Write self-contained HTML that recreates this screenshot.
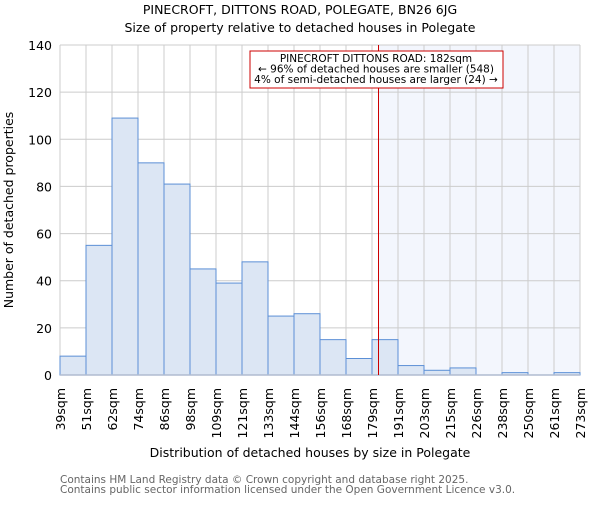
<!DOCTYPE html>
<html><head><meta charset="utf-8"><style>
body{margin:0;background:#fff;}
svg text{font-family:"DejaVu Sans","Liberation Sans",sans-serif;}
</style></head><body>
<svg id="chart" width="600" height="500" xmlns="http://www.w3.org/2000/svg">
<text x="300" y="14" text-anchor="middle" font-size="12.5">PINECROFT, DITTONS ROAD, POLEGATE, BN26 6JG</text>
<text x="300" y="32" text-anchor="middle" font-size="12.5">Size of property relative to detached houses in Polegate</text>
<g id="plot"></g>
<text transform="translate(13,210) rotate(-90)" text-anchor="middle" font-size="12.5">Number of detached properties</text>
<text x="310" y="457" text-anchor="middle" font-size="12.5">Distribution of detached houses by size in Polegate</text>
<text x="60" y="483" font-size="10.5" fill="#666">Contains HM Land Registry data © Crown copyright and database right 2025.</text>
<text x="60" y="493" font-size="10.5" fill="#666">Contains public sector information licensed under the Open Government Licence v3.0.</text>
</svg>
<script>
const tickLabels=["39sqm","51sqm","62sqm","74sqm","86sqm","98sqm","109sqm","121sqm","133sqm","144sqm","156sqm","168sqm","179sqm","191sqm","203sqm","215sqm","226sqm","238sqm","250sqm","261sqm","273sqm"];
const counts=[8,55,109,90,81,45,39,48,25,26,15,7,15,4,2,3,0,1,0,1];
const yTicks=[0,20,40,60,80,100,120,140];
const propertyIndex=12.25;
const NS="http://www.w3.org/2000/svg";
const L=60,R=580,T=45,B=375,yMax=140;
const bw=(R-L)/counts.length;
const xs=i=>L+i*bw;
const ys=v=>B-v/yMax*(B-T);
const g=document.getElementById('plot');
function mk(tag,attrs){const e=document.createElementNS(NS,tag);for(const k in attrs)e.setAttribute(k,attrs[k]);g.appendChild(e);return e;}
const px=xs(propertyIndex);
let e=mk('rect',{x:px,y:T,width:R-px,height:B-T,fill:'#f3f6fd'});


yTicks.forEach(v=>{const l=mk('line',{x1:L,x2:R,y1:ys(v),y2:ys(v),stroke:'#ccc','stroke-width':1});


const t=mk('text',{x:L-8,y:ys(v)+5,'text-anchor':'end','font-size':'12.5'});t.textContent=v;

});
tickLabels.forEach((s,i)=>{const l=mk('line',{x1:xs(i),x2:xs(i),y1:T,y2:B,stroke:'#ccc','stroke-width':1});


const t=mk('text',{transform:`translate(${xs(i)+5},388) rotate(-90)`,'text-anchor':'end','font-size':'12.5'});t.textContent=s;

});
counts.forEach((c,i)=>{if(c<=0)return;const r=mk('rect',{x:xs(i),y:ys(c),width:bw,height:B-ys(c),fill:'#dce6f4',stroke:'#5b8fd6','stroke-width':1});

});
e=mk('line',{x1:L,x2:R,y1:B,y2:B,stroke:'#b0bcd0','stroke-width':1.5});


e=mk('line',{x1:px,x2:px,y1:T,y2:B,stroke:'#cc0000','stroke-width':1});


e=mk('rect',{x:250,y:51,width:253,height:37,fill:'#fff',stroke:'#cc0000','stroke-width':1});


["PINECROFT DITTONS ROAD: 182sqm","← 96% of detached houses are smaller (548)","4% of semi-detached houses are larger (24) →"].forEach((s,i)=>{const t=mk('text',{x:376,y:62+i*10.5,'text-anchor':'middle','font-size':'10.5'});t.textContent=s;

});
</script>
</body></html>
